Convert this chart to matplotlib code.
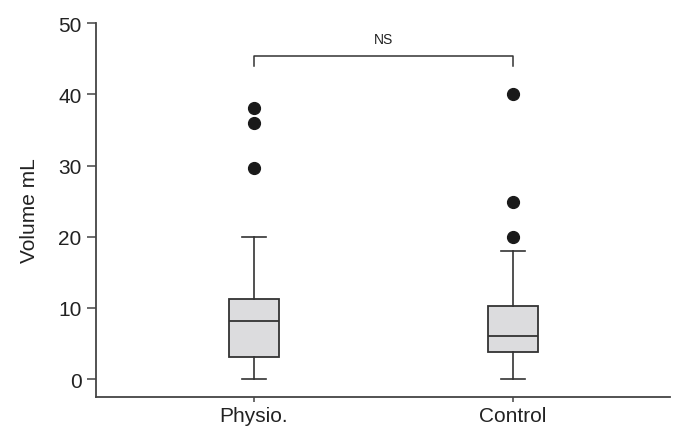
import matplotlib
matplotlib.use('Agg')
import matplotlib.pyplot as plt

plt.rcParams['font.family'] = ['Liberation Sans', 'DejaVu Sans']

# values
groups = ['Physio.', 'Control']
whisker_low = [0.0, 0.0]
q1 = [3.1, 3.8]
median = [8.2, 6.1]
q3 = [11.3, 10.3]
whisker_high = [20.0, 18.0]
outliers = [[29.7, 36.0, 38.1], [20.0, 24.9, 40.1]]
y_ticks = [0, 10, 20, 30, 40, 50]

positions = [1, 2]
stats = []
for i, g in enumerate(groups):
    stats.append({'label': g, 'whislo': whisker_low[i], 'q1': q1[i], 'med': median[i],
                  'q3': q3[i], 'whishi': whisker_high[i], 'fliers': outliers[i]})

fig = plt.figure(figsize=(6.76, 4.31), dpi=100)
ax = fig.add_axes([0.142, 0.0766, 0.849, 0.8674])

edge = '#333333'
ax.bxp(stats, positions=positions, widths=0.19, capwidths=0.093, patch_artist=True,
       boxprops=dict(facecolor='#dcdcde', edgecolor=edge, linewidth=1.3),
       medianprops=dict(color=edge, linewidth=1.3),
       whiskerprops=dict(color=edge, linewidth=1.2),
       capprops=dict(color=edge, linewidth=1.2),
       flierprops=dict(marker='o', markerfacecolor='#1a1a1a', markeredgecolor='#1a1a1a',
                       markersize=8.5))

ax.set_xlim(0.39, 2.606)
ax.set_ylim(-2.5, 50)
ax.set_yticks(y_ticks)
ax.set_xticks(positions)
ax.set_xticklabels(groups)
ax.set_ylabel('Volume mL', fontsize=15, color='#222222', labelpad=14)

for s in ['top', 'right']:
    ax.spines[s].set_visible(False)
for s in ['left', 'bottom']:
    ax.spines[s].set_color('#444444')
    ax.spines[s].set_linewidth(1.3)
ax.tick_params(axis='y', length=6.5, width=1.1, color='#444444', labelsize=15,
               labelcolor='#222222', pad=4)
ax.tick_params(axis='x', length=3.5, width=1.1, color='#444444', labelsize=15,
               labelcolor='#222222', pad=3)

# significance bracket
br_top, br_leg = 45.4, 44.0
ax.plot([positions[0], positions[0], positions[1], positions[1]],
        [br_leg, br_top, br_top, br_leg], color=edge, linewidth=1.1)
ax.text(sum(positions) / 2, 47.8, 'NS', ha='center', va='center', fontsize=10,
        color='#222222')

plt.savefig('out.png', dpi=100)
plt.close()
